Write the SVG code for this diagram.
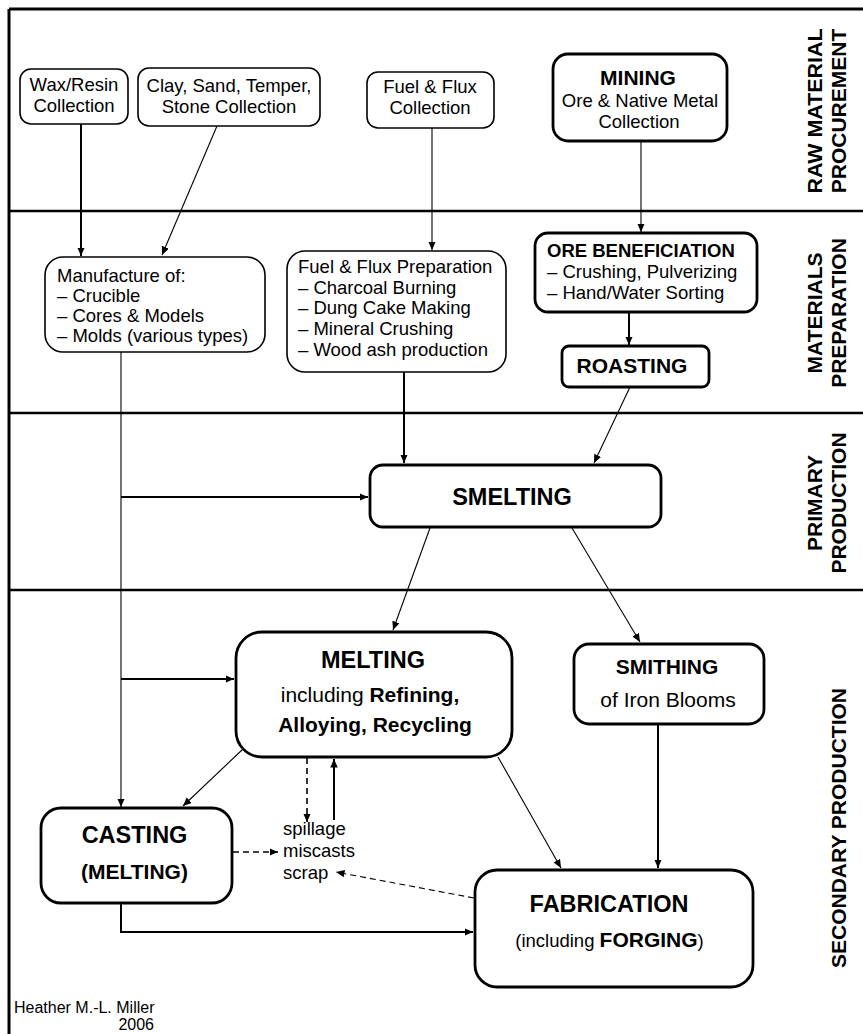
<svg xmlns="http://www.w3.org/2000/svg" width="863" height="1034" viewBox="0 0 863 1034">
<style>
text{font-family:"Liberation Sans",Arial,Helvetica,sans-serif;fill:#000}
.t{font-size:18.5px}
.b{font-weight:bold}
.c{text-anchor:middle}
.lab{font-size:21px;font-weight:bold;text-anchor:middle}
.box{fill:#fff;stroke:#000;stroke-width:1.6}
.bx{fill:#fff;stroke:#000;stroke-width:2.8}
.frame{stroke:#000;fill:none}
.thin{stroke:#000;stroke-width:1.1;fill:none}
.thick{stroke:#000;stroke-width:2;fill:none}
.dash{stroke:#000;stroke-width:1.6;fill:none;stroke-dasharray:6,4}
.dashthin{stroke:#000;stroke-width:1.1;fill:none;stroke-dasharray:6,4}
</style>
<defs>
<marker id="ah" markerUnits="userSpaceOnUse" markerWidth="9" markerHeight="8" refX="8.5" refY="3.75" orient="auto">
<path d="M0,0 L8.5,3.75 L0,7.5 z" fill="#000"/>
</marker>
</defs>
<rect width="863" height="1034" fill="#fff"/>
<g id="frame">
<line class="frame" x1="9" y1="9" x2="863" y2="9" stroke-width="3"/>
<line class="frame" x1="9" y1="9" x2="9" y2="1034" stroke-width="3"/>
<line class="frame" x1="9" y1="211" x2="863" y2="211" stroke-width="2.5"/>
<line class="frame" x1="9" y1="413" x2="863" y2="413" stroke-width="2.5"/>
<line class="frame" x1="9" y1="590" x2="863" y2="590" stroke-width="2.5"/>
</g>
<g id="section-labels">
<text class="lab" transform="translate(822,111) rotate(-90)" textLength="165" lengthAdjust="spacingAndGlyphs">RAW MATERIAL</text>
<text class="lab" transform="translate(846,111) rotate(-90)">PROCUREMENT</text>
<text class="lab" transform="translate(822,313) rotate(-90)">MATERIALS</text>
<text class="lab" transform="translate(846,313) rotate(-90)">PREPARATION</text>
<text class="lab" transform="translate(822,503) rotate(-90)">PRIMARY</text>
<text class="lab" transform="translate(846,503) rotate(-90)">PRODUCTION</text>
<text class="lab" transform="translate(846,828) rotate(-90)">SECONDARY PRODUCTION</text>
</g>
<g id="connectors">
<line class="thick" x1="81" y1="124" x2="81" y2="256" marker-end="url(#ah)"/>
<line class="thin" x1="217" y1="126" x2="162" y2="255" marker-end="url(#ah)"/>
<line class="thin" x1="432" y1="128" x2="432" y2="250" marker-end="url(#ah)"/>
<line class="thin" x1="641" y1="141" x2="641" y2="232" marker-end="url(#ah)"/>
<line class="thick" x1="629" y1="312" x2="629" y2="345" marker-end="url(#ah)"/>
<line class="thick" x1="404" y1="372" x2="404" y2="463" marker-end="url(#ah)"/>
<line class="thin" x1="630" y1="387" x2="594" y2="463" marker-end="url(#ah)"/>
<line class="thin" x1="121" y1="352" x2="121" y2="807" marker-end="url(#ah)"/>
<line class="thick" x1="121" y1="497" x2="368" y2="497" marker-end="url(#ah)"/>
<line class="thick" x1="121" y1="679" x2="234" y2="679" marker-end="url(#ah)"/>
<line class="thin" x1="430" y1="528" x2="393" y2="630" marker-end="url(#ah)"/>
<line class="thin" x1="572" y1="528" x2="640" y2="642" marker-end="url(#ah)"/>
<line class="thin" x1="243" y1="749" x2="183" y2="806" marker-end="url(#ah)"/>
<line class="dash" x1="307" y1="758" x2="307" y2="822" marker-end="url(#ah)"/>
<line class="thick" x1="334" y1="820" x2="334" y2="759" marker-end="url(#ah)"/>
<line class="thin" x1="498" y1="757" x2="561" y2="868" marker-end="url(#ah)"/>
<line class="thick" x1="658" y1="724" x2="658" y2="868" marker-end="url(#ah)"/>
<line class="dash" x1="233" y1="852" x2="278" y2="852" marker-end="url(#ah)"/>
<line class="dashthin" x1="474" y1="898" x2="336" y2="872" marker-end="url(#ah)"/>
<polyline class="thick" points="121,904 121,932 473,932" marker-end="url(#ah)"/>
</g>
<g id="wax-resin">
<rect class="box" x="20" y="69" width="108" height="55" rx="11"/>
<text class="t c" x="74" y="91">Wax/Resin</text>
<text class="t c" x="74" y="112">Collection</text>
</g>
<g id="clay">
<rect class="box" x="138" y="68" width="182" height="58" rx="11"/>
<text class="t c" x="229" y="92">Clay, Sand, Temper,</text>
<text class="t c" x="229" y="113">Stone Collection</text>
</g>
<g id="fuel-collection">
<rect class="box" x="367" y="72" width="127" height="56" rx="11"/>
<text class="t c" x="430" y="93">Fuel &amp; Flux</text>
<text class="t c" x="430" y="114">Collection</text>
</g>
<g id="mining">
<rect class="bx" x="553" y="54" width="174" height="87" rx="15"/>
<text class="c b" x="638" y="85" font-size="21">MINING</text>
<text class="t c" x="640" y="107">Ore &amp; Native Metal</text>
<text class="t c" x="639" y="128">Collection</text>
</g>
<g id="manufacture">
<rect class="box" x="45" y="257" width="220" height="95" rx="18"/>
<text class="t" x="57" y="282">Manufacture of:</text>
<text class="t" x="57" y="302">– Crucible</text>
<text class="t" x="57" y="322">– Cores &amp; Models</text>
<text class="t" x="57" y="342">– Molds (various types)</text>
</g>
<g id="fuel-preparation">
<rect class="box" x="287" y="251" width="219" height="121" rx="18"/>
<text class="t" x="298" y="273">Fuel &amp; Flux Preparation</text>
<text class="t" x="298" y="294">– Charcoal Burning</text>
<text class="t" x="298" y="314">– Dung Cake Making</text>
<text class="t" x="298" y="335">– Mineral Crushing</text>
<text class="t" x="298" y="356">– Wood ash production</text>
</g>
<g id="ore-beneficiation">
<rect class="bx" x="535" y="233" width="222" height="79" rx="13"/>
<text class="t b" x="547" y="257">ORE BENEFICIATION</text>
<text class="t" x="547" y="278">– Crushing, Pulverizing</text>
<text class="t" x="547" y="299">– Hand/Water Sorting</text>
</g>
<g id="roasting">
<rect class="bx" x="562" y="346" width="147" height="41" rx="7"/>
<text class="c b" x="632" y="373" font-size="21">ROASTING</text>
</g>
<g id="smelting">
<rect class="bx" x="370" y="465" width="291" height="62" rx="13"/>
<text class="c b" x="512" y="505" font-size="23.5">SMELTING</text>
</g>
<g id="melting">
<rect class="bx" x="236" y="632" width="276" height="125" rx="26"/>
<text class="c b" x="373" y="668" font-size="23.5">MELTING</text>
<text class="c" x="370" y="702" font-size="21">including <tspan font-weight="bold">Refining,</tspan></text>
<text class="c b" x="375" y="732" font-size="21">Alloying, Recycling</text>
</g>
<g id="smithing">
<rect class="bx" x="574" y="644" width="190" height="80" rx="15"/>
<text class="c b" x="667" y="674" font-size="21">SMITHING</text>
<text class="c" x="668" y="707" font-size="21">of Iron Blooms</text>
</g>
<g id="casting">
<rect class="bx" x="41" y="808" width="191" height="95" rx="20"/>
<text class="c b" x="134.5" y="843" font-size="23.5">CASTING</text>
<text class="c b" x="134.5" y="879" font-size="21">(MELTING)</text>
</g>
<g id="scrap">
<text class="t" x="283" y="835">spillage</text>
<text class="t" x="283" y="857">miscasts</text>
<text class="t" x="283" y="879">scrap</text>
</g>
<g id="fabrication">
<rect class="bx" x="475" y="870" width="278" height="117" rx="22"/>
<text class="c b" x="609" y="912" font-size="23.5">FABRICATION</text>
<text class="c" x="609.5" y="947" font-size="18.5">(including <tspan font-weight="bold" font-size="21">FORGING</tspan>)</text>
</g>
<g id="credit">
<text x="14" y="1013" font-size="16">Heather M.-L. Miller</text>
<text x="154" y="1030" font-size="16" text-anchor="end">2006</text>
</g>
</svg>
